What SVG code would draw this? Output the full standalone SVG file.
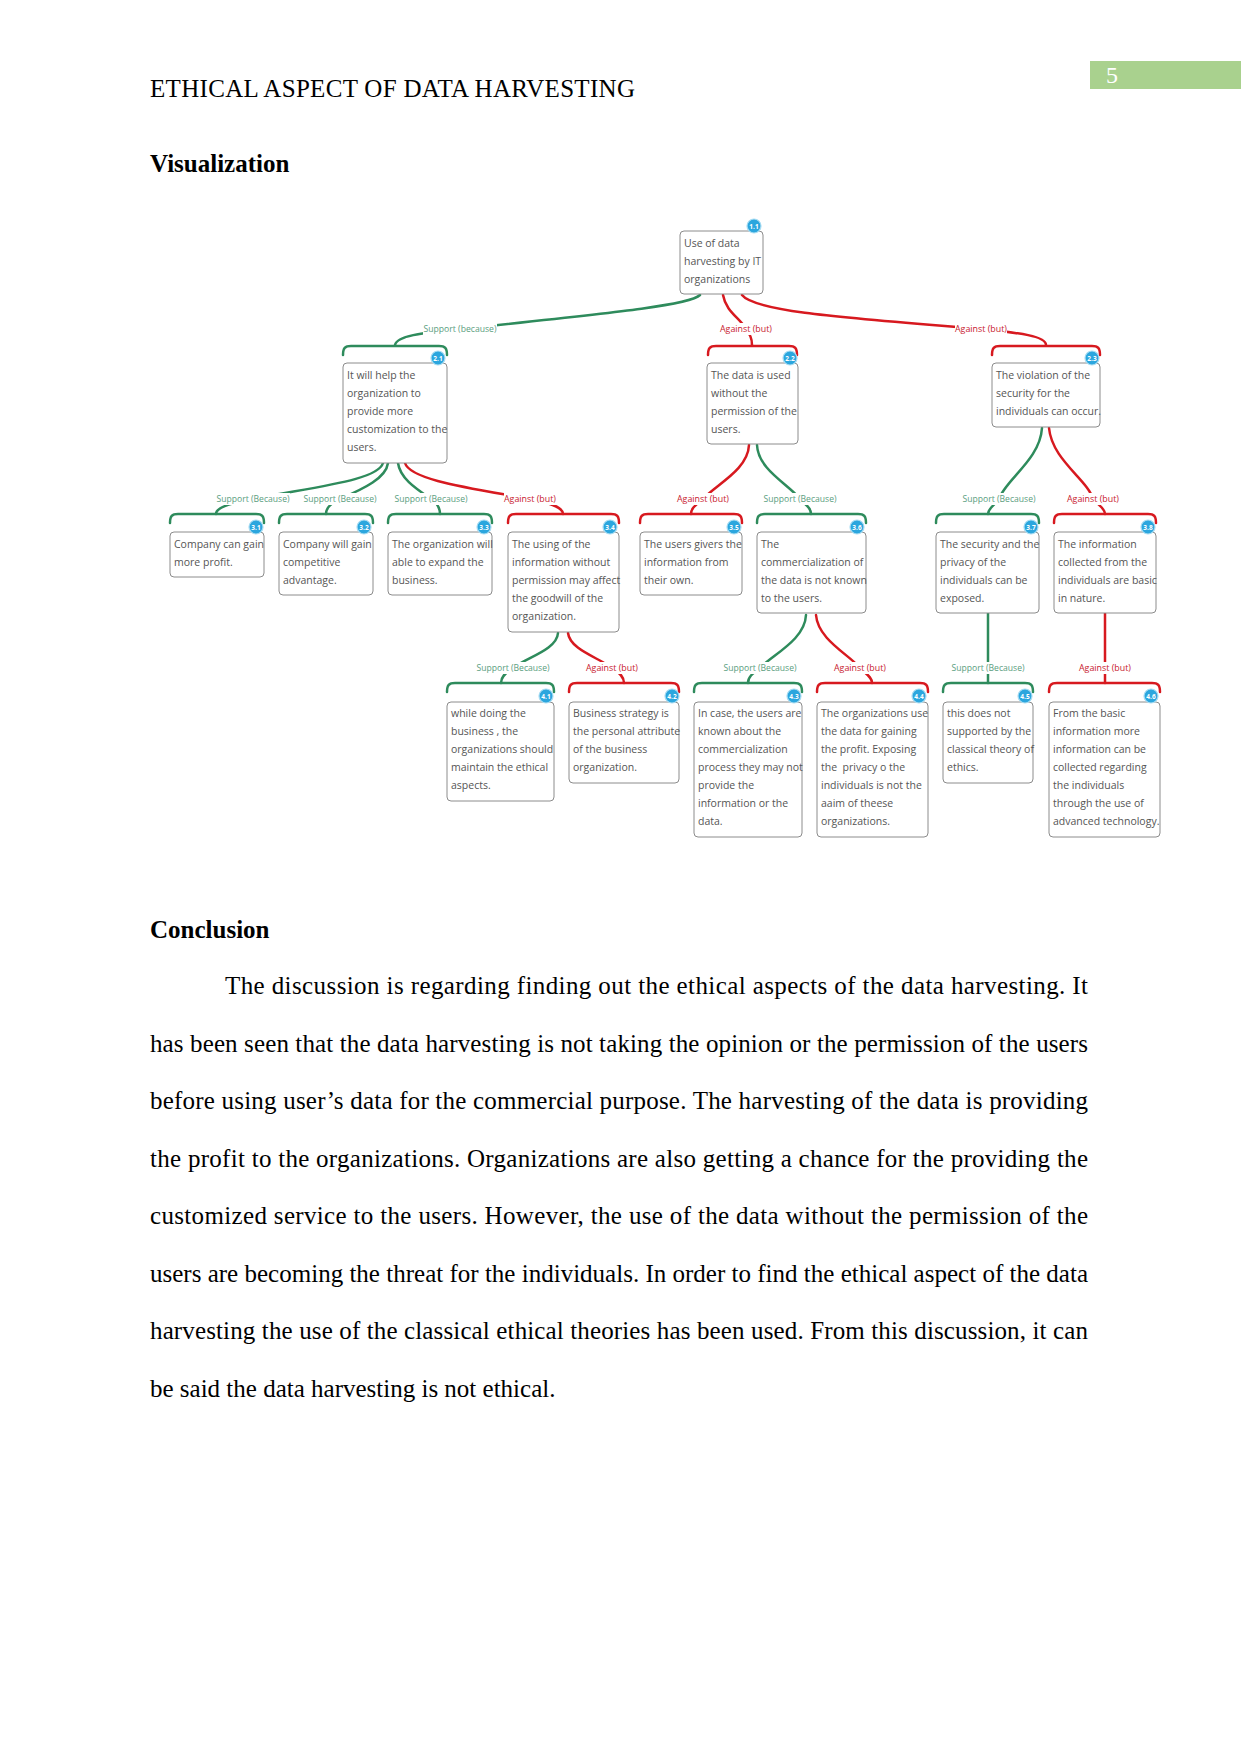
<svg xmlns="http://www.w3.org/2000/svg" width="1241" height="1754" viewBox="0 0 1241 1754">
<style>
.page{font-family:"Liberation Serif","Times New Roman",serif;font-size:25px;fill:#000}
.hb{font-weight:bold}
.box{fill:#fff;stroke:#8c8c8c;stroke-width:1}
.bt{font-family:"Open Sans","Noto Sans","DejaVu Sans",sans-serif;font-size:10.5px;fill:#555}
.badge{fill:#2ba6de;stroke:#a8dcf2;stroke-width:1.2}
.bn{font-family:"Open Sans","Noto Sans",sans-serif;font-size:6.5px;font-weight:bold;fill:#fff;text-anchor:middle}
.sup{fill:none;stroke:#2e8b5c;stroke-width:2.5;stroke-linecap:round}
.ag{fill:none;stroke:#d7191f;stroke-width:2.5;stroke-linecap:round}
.lbg{fill:#fff}
.ls{font-family:"Open Sans","Noto Sans",sans-serif;font-size:8.5px;fill:#5a9e80;text-anchor:middle}
.la{font-family:"Open Sans","Noto Sans",sans-serif;font-size:8.5px;fill:#c8202f;text-anchor:middle}
</style>
<rect width="1241" height="1754" fill="#fff"/>
<g id="header">
<text class="page" x="150" y="97" textLength="485" lengthAdjust="spacing">ETHICAL ASPECT OF DATA HARVESTING</text>
<rect x="1090" y="61" width="151" height="28" fill="#a9d18e"/>
<text class="page" x="1106" y="83" style="fill:#fff;font-size:24px">5</text>
<text class="page hb" x="150" y="172">Visualization</text>
</g>
<g id="connectors">
<path class="sup" d="M700,295 C690,305 620,312 460,329 C420,333 397,336 395,345"/>
<path class="ag" d="M723,295 C726,312 740,318 746,329 C750,335 752,338 752,345"/>
<path class="ag" d="M742,295 C755,312 850,318 981,329 C1020,333 1046,336 1046,345"/>
<path class="sup" d="M383,463 C378,480 320,486 253,499 C235,503 216,506 216,514"/>
<path class="sup" d="M388,463 C386,478 365,488 340,499 C332,503 326,507 326,514"/>
<path class="sup" d="M398,463 C400,478 415,488 431,499 C437,503 440,507 440,514"/>
<path class="ag" d="M405,463 C410,480 470,488 530,499 C550,503 563,507 563,514"/>
<path class="ag" d="M749,445 C748,470 715,485 703,499 C696,505 691,508 691,514"/>
<path class="sup" d="M757,445 C758,470 790,485 800,499 C806,505 811,508 811,514"/>
<path class="sup" d="M1042,428 C1040,460 1005,480 999,499 C995,505 988,508 988,514"/>
<path class="ag" d="M1049,428 C1052,460 1088,480 1093,499 C1098,505 1105,508 1105,514"/>
<path class="sup" d="M558,633 C557,650 525,658 513,668 C505,673 501,677 501,683"/>
<path class="ag" d="M568,633 C570,650 600,658 612,668 C620,673 624,677 624,683"/>
<path class="sup" d="M806,615 C805,640 772,655 760,668 C752,674 748,677 748,683"/>
<path class="ag" d="M816,615 C818,640 850,655 860,668 C866,674 872,677 872,683"/>
<path class="sup" d="M988,613 L988,683"/>
<path class="ag" d="M1105,613 L1105,683"/>
<!-- brackets -->
<path class="sup" d="M343,355 C343,348 345,346 351,346 H439 C445,346 447,348 447,355"/>
<path class="ag" d="M708,355 C708,348 710,346 716,346 H789 C795,346 797,348 797,355"/>
<path class="ag" d="M992,355 C992,348 994,346 1000,346 H1092 C1098,346 1100,348 1100,355"/>
<path class="sup" d="M170,523 C170,516 172,514 178,514 H256 C262,514 264,516 264,523"/>
<path class="sup" d="M279,523 C279,516 281,514 287,514 H365 C371,514 373,516 373,523"/>
<path class="sup" d="M388,523 C388,516 390,514 396,514 H484 C490,514 492,516 492,523"/>
<path class="ag" d="M508,523 C508,516 510,514 516,514 H611 C617,514 619,516 619,523"/>
<path class="ag" d="M640,523 C640,516 642,514 648,514 H734 C740,514 742,516 742,523"/>
<path class="sup" d="M757,523 C757,516 759,514 765,514 H858 C864,514 866,516 866,523"/>
<path class="sup" d="M936,523 C936,516 938,514 944,514 H1031 C1037,514 1039,516 1039,523"/>
<path class="ag" d="M1054,523 C1054,516 1056,514 1062,514 H1148 C1154,514 1156,516 1156,523"/>
<path class="sup" d="M447,692 C447,685 449,683 455,683 H546 C552,683 554,685 554,692"/>
<path class="ag" d="M569,692 C569,685 571,683 577,683 H671 C677,683 679,685 679,692"/>
<path class="sup" d="M694,692 C694,685 696,683 702,683 H794 C800,683 802,685 802,692"/>
<path class="ag" d="M817,692 C817,685 819,683 825,683 H920 C926,683 928,685 928,692"/>
<path class="sup" d="M943,692 C943,685 945,683 951,683 H1025 C1031,683 1033,685 1033,692"/>
<path class="ag" d="M1049,692 C1049,685 1051,683 1057,683 H1152 C1158,683 1160,685 1160,692"/>
<!-- label backgrounds -->
<rect class="lbg" x="423" y="323" width="74" height="12"/>
<rect class="lbg" x="720" y="323" width="53" height="12"/>
<rect class="lbg" x="955" y="323" width="52" height="12"/>
<rect class="lbg" x="216" y="493" width="74" height="12"/>
<rect class="lbg" x="303" y="493" width="74" height="12"/>
<rect class="lbg" x="394" y="493" width="74" height="12"/>
<rect class="lbg" x="504" y="493" width="52" height="12"/>
<rect class="lbg" x="677" y="493" width="52" height="12"/>
<rect class="lbg" x="763" y="493" width="74" height="12"/>
<rect class="lbg" x="962" y="493" width="74" height="12"/>
<rect class="lbg" x="1067" y="493" width="52" height="12"/>
<rect class="lbg" x="476" y="662" width="74" height="12"/>
<rect class="lbg" x="586" y="662" width="52" height="12"/>
<rect class="lbg" x="723" y="662" width="74" height="12"/>
<rect class="lbg" x="834" y="662" width="52" height="12"/>
<rect class="lbg" x="951" y="662" width="74" height="12"/>
<rect class="lbg" x="1079" y="662" width="52" height="12"/>
<!-- labels -->
<text class="ls" x="460" y="332" textLength="73" lengthAdjust="spacingAndGlyphs">Support (because)</text>
<text class="la" x="746" y="332" textLength="52" lengthAdjust="spacingAndGlyphs">Against (but)</text>
<text class="la" x="981" y="332" textLength="52" lengthAdjust="spacingAndGlyphs">Against (but)</text>
<text class="ls" x="253" y="502" textLength="73" lengthAdjust="spacingAndGlyphs">Support (Because)</text>
<text class="ls" x="340" y="502" textLength="73" lengthAdjust="spacingAndGlyphs">Support (Because)</text>
<text class="ls" x="431" y="502" textLength="73" lengthAdjust="spacingAndGlyphs">Support (Because)</text>
<text class="la" x="530" y="502" textLength="52" lengthAdjust="spacingAndGlyphs">Against (but)</text>
<text class="la" x="703" y="502" textLength="52" lengthAdjust="spacingAndGlyphs">Against (but)</text>
<text class="ls" x="800" y="502" textLength="73" lengthAdjust="spacingAndGlyphs">Support (Because)</text>
<text class="ls" x="999" y="502" textLength="73" lengthAdjust="spacingAndGlyphs">Support (Because)</text>
<text class="la" x="1093" y="502" textLength="52" lengthAdjust="spacingAndGlyphs">Against (but)</text>
<text class="ls" x="513" y="671" textLength="73" lengthAdjust="spacingAndGlyphs">Support (Because)</text>
<text class="la" x="612" y="671" textLength="52" lengthAdjust="spacingAndGlyphs">Against (but)</text>
<text class="ls" x="760" y="671" textLength="73" lengthAdjust="spacingAndGlyphs">Support (Because)</text>
<text class="la" x="860" y="671" textLength="52" lengthAdjust="spacingAndGlyphs">Against (but)</text>
<text class="ls" x="988" y="671" textLength="73" lengthAdjust="spacingAndGlyphs">Support (Because)</text>
<text class="la" x="1105" y="671" textLength="52" lengthAdjust="spacingAndGlyphs">Against (but)</text>
</g>
<g id="n1.1">
<rect class="box" x="680" y="231" width="83" height="63" rx="4"/>
<text class="bt" x="684" y="247"><tspan x="684">Use of data</tspan><tspan x="684" dy="18">harvesting by IT</tspan><tspan x="684" dy="18">organizations</tspan></text>
<circle class="badge" cx="754" cy="226" r="7"/><text class="bn" x="754" y="228.5">1.1</text>
</g>
<g id="n2.1">
<rect class="box" x="343" y="363" width="104" height="100" rx="4"/>
<text class="bt" x="347" y="379"><tspan x="347">It will help the</tspan><tspan x="347" dy="18">organization to</tspan><tspan x="347" dy="18">provide more</tspan><tspan x="347" dy="18">customization to the</tspan><tspan x="347" dy="18">users.</tspan></text>
<circle class="badge" cx="438" cy="358" r="7"/><text class="bn" x="438" y="360.5">2.1</text>
</g>
<g id="n2.2">
<rect class="box" x="707" y="363" width="91" height="81" rx="4"/>
<text class="bt" x="711" y="379"><tspan x="711">The data is used</tspan><tspan x="711" dy="18">without the</tspan><tspan x="711" dy="18">permission of the</tspan><tspan x="711" dy="18">users.</tspan></text>
<circle class="badge" cx="790" cy="358" r="7"/><text class="bn" x="790" y="360.5">2.2</text>
</g>
<g id="n2.3">
<rect class="box" x="992" y="363" width="108" height="64" rx="4"/>
<text class="bt" x="996" y="379"><tspan x="996">The violation of the</tspan><tspan x="996" dy="18">security for the</tspan><tspan x="996" dy="18">individuals can occur.</tspan></text>
<circle class="badge" cx="1092" cy="358" r="7"/><text class="bn" x="1092" y="360.5">2.3</text>
</g>
<g id="n3.1">
<rect class="box" x="170" y="532" width="94" height="45" rx="4"/>
<text class="bt" x="174" y="548"><tspan x="174">Company can gain</tspan><tspan x="174" dy="18">more profit.</tspan></text>
<circle class="badge" cx="256" cy="527" r="7"/><text class="bn" x="256" y="529.5">3.1</text>
</g>
<g id="n3.2">
<rect class="box" x="279" y="532" width="94" height="63" rx="4"/>
<text class="bt" x="283" y="548"><tspan x="283">Company will gain</tspan><tspan x="283" dy="18">competitive</tspan><tspan x="283" dy="18">advantage.</tspan></text>
<circle class="badge" cx="364" cy="527" r="7"/><text class="bn" x="364" y="529.5">3.2</text>
</g>
<g id="n3.3">
<rect class="box" x="388" y="532" width="104" height="63" rx="4"/>
<text class="bt" x="392" y="548"><tspan x="392">The organization will</tspan><tspan x="392" dy="18">able to expand the</tspan><tspan x="392" dy="18">business.</tspan></text>
<circle class="badge" cx="484" cy="527" r="7"/><text class="bn" x="484" y="529.5">3.3</text>
</g>
<g id="n3.4">
<rect class="box" x="508" y="532" width="111" height="100" rx="4"/>
<text class="bt" x="512" y="548"><tspan x="512">The using of the</tspan><tspan x="512" dy="18">information without</tspan><tspan x="512" dy="18">permission may affect</tspan><tspan x="512" dy="18">the goodwill of the</tspan><tspan x="512" dy="18">organization.</tspan></text>
<circle class="badge" cx="610" cy="527" r="7"/><text class="bn" x="610" y="529.5">3.4</text>
</g>
<g id="n3.5">
<rect class="box" x="640" y="532" width="102" height="63" rx="4"/>
<text class="bt" x="644" y="548"><tspan x="644">The users givers the</tspan><tspan x="644" dy="18">information from</tspan><tspan x="644" dy="18">their own.</tspan></text>
<circle class="badge" cx="734" cy="527" r="7"/><text class="bn" x="734" y="529.5">3.5</text>
</g>
<g id="n3.6">
<rect class="box" x="757" y="532" width="109" height="81" rx="4"/>
<text class="bt" x="761" y="548"><tspan x="761">The</tspan><tspan x="761" dy="18">commercialization of</tspan><tspan x="761" dy="18">the data is not known</tspan><tspan x="761" dy="18">to the users.</tspan></text>
<circle class="badge" cx="857" cy="527" r="7"/><text class="bn" x="857" y="529.5">3.6</text>
</g>
<g id="n3.7">
<rect class="box" x="936" y="532" width="103" height="81" rx="4"/>
<text class="bt" x="940" y="548"><tspan x="940">The security and the</tspan><tspan x="940" dy="18">privacy of the</tspan><tspan x="940" dy="18">individuals can be</tspan><tspan x="940" dy="18">exposed.</tspan></text>
<circle class="badge" cx="1031" cy="527" r="7"/><text class="bn" x="1031" y="529.5">3.7</text>
</g>
<g id="n3.8">
<rect class="box" x="1054" y="532" width="102" height="81" rx="4"/>
<text class="bt" x="1058" y="548"><tspan x="1058">The information</tspan><tspan x="1058" dy="18">collected from the</tspan><tspan x="1058" dy="18">individuals are basic</tspan><tspan x="1058" dy="18">in nature.</tspan></text>
<circle class="badge" cx="1148" cy="527" r="7"/><text class="bn" x="1148" y="529.5">3.8</text>
</g>
<g id="n4.1">
<rect class="box" x="447" y="702" width="107" height="99" rx="4"/>
<text class="bt" x="451" y="717"><tspan x="451">while doing the</tspan><tspan x="451" dy="18">business , the</tspan><tspan x="451" dy="18">organizations should</tspan><tspan x="451" dy="18">maintain the ethical</tspan><tspan x="451" dy="18">aspects.</tspan></text>
<circle class="badge" cx="546" cy="696" r="7"/><text class="bn" x="546" y="698.5">4.1</text>
</g>
<g id="n4.2">
<rect class="box" x="569" y="702" width="110" height="81" rx="4"/>
<text class="bt" x="573" y="717"><tspan x="573">Business strategy is</tspan><tspan x="573" dy="18">the personal attribute</tspan><tspan x="573" dy="18">of the business</tspan><tspan x="573" dy="18">organization.</tspan></text>
<circle class="badge" cx="672" cy="696" r="7"/><text class="bn" x="672" y="698.5">4.2</text>
</g>
<g id="n4.3">
<rect class="box" x="694" y="702" width="108" height="135" rx="4"/>
<text class="bt" x="698" y="717"><tspan x="698">In case, the users are</tspan><tspan x="698" dy="18">known about the</tspan><tspan x="698" dy="18">commercialization</tspan><tspan x="698" dy="18">process they may not</tspan><tspan x="698" dy="18">provide the</tspan><tspan x="698" dy="18">information or the</tspan><tspan x="698" dy="18">data.</tspan></text>
<circle class="badge" cx="794" cy="696" r="7"/><text class="bn" x="794" y="698.5">4.3</text>
</g>
<g id="n4.4">
<rect class="box" x="817" y="702" width="111" height="135" rx="4"/>
<text class="bt" x="821" y="717"><tspan x="821">The organizations use</tspan><tspan x="821" dy="18">the data for gaining</tspan><tspan x="821" dy="18">the profit. Exposing</tspan><tspan x="821" dy="18" xml:space="preserve">the  privacy o the</tspan><tspan x="821" dy="18">individuals is not the</tspan><tspan x="821" dy="18">aaim of theese</tspan><tspan x="821" dy="18">organizations.</tspan></text>
<circle class="badge" cx="919" cy="696" r="7"/><text class="bn" x="919" y="698.5">4.4</text>
</g>
<g id="n4.5">
<rect class="box" x="943" y="702" width="90" height="81" rx="4"/>
<text class="bt" x="947" y="717"><tspan x="947">this does not</tspan><tspan x="947" dy="18">supported by the</tspan><tspan x="947" dy="18">classical theory of</tspan><tspan x="947" dy="18">ethics.</tspan></text>
<circle class="badge" cx="1025" cy="696" r="7"/><text class="bn" x="1025" y="698.5">4.5</text>
</g>
<g id="n4.6">
<rect class="box" x="1049" y="702" width="111" height="135" rx="4"/>
<text class="bt" x="1053" y="717"><tspan x="1053">From the basic</tspan><tspan x="1053" dy="18">information more</tspan><tspan x="1053" dy="18">information can be</tspan><tspan x="1053" dy="18">collected regarding</tspan><tspan x="1053" dy="18">the individuals</tspan><tspan x="1053" dy="18">through the use of</tspan><tspan x="1053" dy="18">advanced technology.</tspan></text>
<circle class="badge" cx="1151" cy="696" r="7"/><text class="bn" x="1151" y="698.5">4.6</text>
</g>
<g id="conclusion">
<text class="page hb" x="150" y="938">Conclusion</text>
<text class="page" x="225" y="994" textLength="863" lengthAdjust="spacing">The discussion is regarding finding out the ethical aspects of the data harvesting. It</text>
<text class="page" x="150" y="1051.5" textLength="938" lengthAdjust="spacing">has been seen that the data harvesting is not taking the opinion or the permission of the users</text>
<text class="page" x="150" y="1109" textLength="938" lengthAdjust="spacing">before using user’s data for the commercial purpose. The harvesting of the data is providing</text>
<text class="page" x="150" y="1166.5" textLength="938" lengthAdjust="spacing">the profit to the organizations. Organizations are also getting a chance for the providing the</text>
<text class="page" x="150" y="1224" textLength="938" lengthAdjust="spacing">customized service to the users. However, the use of the data without the permission of the</text>
<text class="page" x="150" y="1281.5" textLength="938" lengthAdjust="spacing">users are becoming the threat for the individuals. In order to find the ethical aspect of the data</text>
<text class="page" x="150" y="1339" textLength="938" lengthAdjust="spacing">harvesting the use of the classical ethical theories has been used. From this discussion, it can</text>
<text class="page" x="150" y="1396.5">be said the data harvesting is not ethical.</text>
</g>
</svg>
